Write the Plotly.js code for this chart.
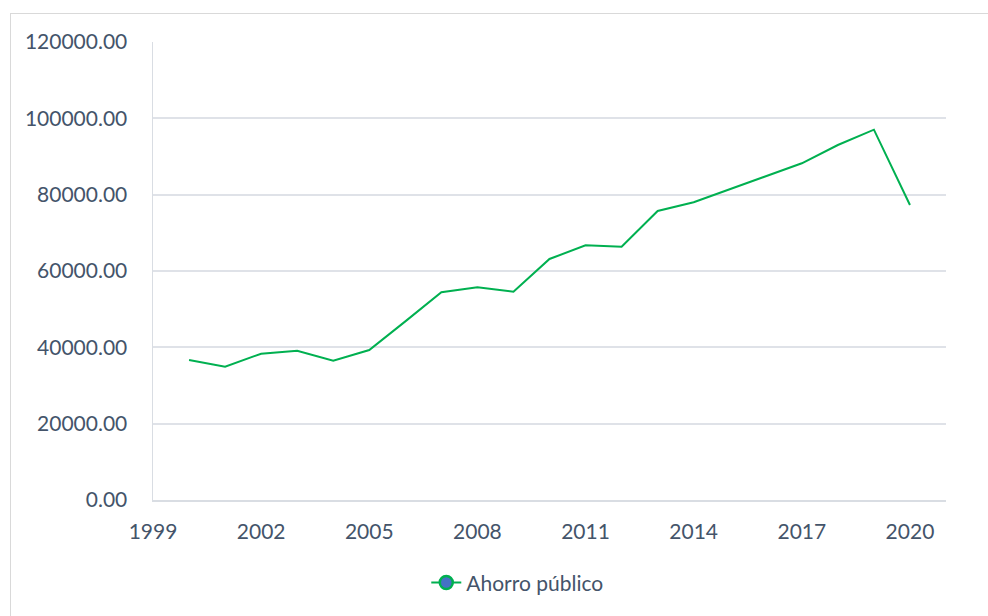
<!DOCTYPE html>
<html>
<head>
<meta charset="utf-8">
<script src="https://cdn.plot.ly/plotly-3.0.1.min.js"></script>
<style>
html,body{margin:0;padding:0;background:#fff;}
#wrap{position:relative;width:988px;height:616px;overflow:hidden;}
#chart{width:988px;height:616px;}
#frame{position:absolute;left:10px;top:13px;width:990px;height:620px;border:1px solid #d9d9d9;pointer-events:none;}
</style>
</head>
<body>
<div id="wrap"><div id="chart"></div><div id="frame"></div></div>
<script>
const years = [2000,2001,2002,2003,2004,2005,2006,2007,2008,2009,2010,2011,2012,2013,2014,2015,2016,2017,2018,2019,2020];
const ahorroPublico = [36700,34930,38330,39120,36500,39300,46800,54420,55730,54580,63150,66740,66370,75720,78000,81380,84760,88220,93010,97030,77300];
const seriesName = 'Ahorro público';

const green = '#00b050';
const textColor = '#44546a';
const fontFam = 'Lato, Calibri, "Open Sans", sans-serif';

const data = [
  {x: years, y: ahorroPublico, type: 'scatter', mode: 'lines', line: {color: green, width: 2}, showlegend: false, hoverinfo: 'x+y'},
  {x: [null], y: [null], type: 'scatter', mode: 'lines+markers', name: seriesName,
   line: {color: green, width: 2}, marker: {color: '#4472c4', size: 13, line: {color: green, width: 2.5}}}
];

const layout = {
  width: 988, height: 616,
  margin: {l: 153, r: 42, t: 42, b: 116},
  paper_bgcolor: '#fff', plot_bgcolor: '#fff',
  font: {family: fontFam, size: 21, color: textColor},
  xaxis: {range: [1999, 2021], tick0: 1999, dtick: 3, showgrid: false, zeroline: false,
          showline: true, linecolor: '#d9dde3', linewidth: 1.5, ticks: 'outside', ticklen: 12, tickcolor: 'rgba(0,0,0,0)',
          tickfont: {size: 21, color: textColor}},
  yaxis: {range: [0, 120000], dtick: 20000, tickformat: '.2f', showgrid: true, gridcolor: '#dfe2e8', gridwidth: 2,
          zeroline: false, showline: true, linecolor: '#d9dde3', linewidth: 1.5, ticks: 'outside', ticklen: 20, tickcolor: 'rgba(0,0,0,0)',
          tickfont: {size: 21, color: textColor}},
  legend: {orientation: 'h', x: 0.46, xanchor: 'center', y: -0.181, yanchor: 'middle', font: {size: 21, color: textColor}},
  showlegend: true
};

Plotly.newPlot('chart', data, layout, {displayModeBar: false, staticPlot: true});
</script>
</body>
</html>
